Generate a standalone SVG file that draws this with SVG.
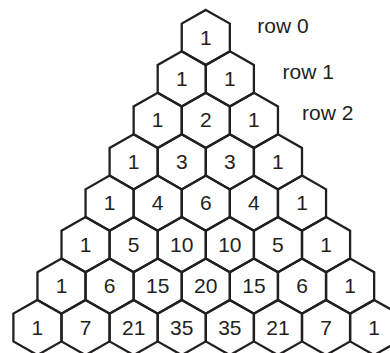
<svg xmlns="http://www.w3.org/2000/svg" width="390" height="353" viewBox="0 0 390 353">
<style>
.hex{fill:none;stroke:#231f20;stroke-width:2.3;stroke-linejoin:miter}
.num{font-family:"Liberation Sans",Arial,sans-serif;font-size:21px;fill:#231f20;text-anchor:middle}
.lbl{font-family:"Liberation Sans",Arial,sans-serif;font-size:21px;fill:#231f20}
</style>
<defs>
<polygon id="hex" class="hex" points="0,-27.6 24.05,-13.9 24.05,13.9 0,27.6 -24.05,13.9 -24.05,-13.9"/>
</defs>
<rect x="0" y="0" width="390" height="353" fill="#ffffff"/>
<g id="connectors"></g>
<g id="n0_0"><use href="#hex" x="205.8" y="37.5"/><text class="num" x="205.8" y="44.5">1</text></g>
<g id="n1_0"><use href="#hex" x="181.75" y="78.9"/><text class="num" x="181.75" y="85.9">1</text></g>
<g id="n1_1"><use href="#hex" x="229.85" y="78.9"/><text class="num" x="229.85" y="85.9">1</text></g>
<g id="n2_0"><use href="#hex" x="157.7" y="120.4"/><text class="num" x="157.7" y="127.4">1</text></g>
<g id="n2_1"><use href="#hex" x="205.8" y="120.4"/><text class="num" x="205.8" y="127.4">2</text></g>
<g id="n2_2"><use href="#hex" x="253.9" y="120.4"/><text class="num" x="253.9" y="127.4">1</text></g>
<g id="n3_0"><use href="#hex" x="133.65" y="161.8"/><text class="num" x="133.65" y="168.8">1</text></g>
<g id="n3_1"><use href="#hex" x="181.75" y="161.8"/><text class="num" x="181.75" y="168.8">3</text></g>
<g id="n3_2"><use href="#hex" x="229.85" y="161.8"/><text class="num" x="229.85" y="168.8">3</text></g>
<g id="n3_3"><use href="#hex" x="277.95" y="161.8"/><text class="num" x="277.95" y="168.8">1</text></g>
<g id="n4_0"><use href="#hex" x="109.6" y="203.2"/><text class="num" x="109.6" y="210.2">1</text></g>
<g id="n4_1"><use href="#hex" x="157.7" y="203.2"/><text class="num" x="157.7" y="210.2">4</text></g>
<g id="n4_2"><use href="#hex" x="205.8" y="203.2"/><text class="num" x="205.8" y="210.2">6</text></g>
<g id="n4_3"><use href="#hex" x="253.9" y="203.2"/><text class="num" x="253.9" y="210.2">4</text></g>
<g id="n4_4"><use href="#hex" x="302.0" y="203.2"/><text class="num" x="302.0" y="210.2">1</text></g>
<g id="n5_0"><use href="#hex" x="85.55" y="244.65"/><text class="num" x="85.55" y="251.65">1</text></g>
<g id="n5_1"><use href="#hex" x="133.65" y="244.65"/><text class="num" x="133.65" y="251.65">5</text></g>
<g id="n5_2"><use href="#hex" x="181.75" y="244.65"/><text class="num" x="181.75" y="251.65">10</text></g>
<g id="n5_3"><use href="#hex" x="229.85" y="244.65"/><text class="num" x="229.85" y="251.65">10</text></g>
<g id="n5_4"><use href="#hex" x="277.95" y="244.65"/><text class="num" x="277.95" y="251.65">5</text></g>
<g id="n5_5"><use href="#hex" x="326.05" y="244.65"/><text class="num" x="326.05" y="251.65">1</text></g>
<g id="n6_0"><use href="#hex" x="61.5" y="286.1"/><text class="num" x="61.5" y="293.1">1</text></g>
<g id="n6_1"><use href="#hex" x="109.6" y="286.1"/><text class="num" x="109.6" y="293.1">6</text></g>
<g id="n6_2"><use href="#hex" x="157.7" y="286.1"/><text class="num" x="157.7" y="293.1">15</text></g>
<g id="n6_3"><use href="#hex" x="205.8" y="286.1"/><text class="num" x="205.8" y="293.1">20</text></g>
<g id="n6_4"><use href="#hex" x="253.9" y="286.1"/><text class="num" x="253.9" y="293.1">15</text></g>
<g id="n6_5"><use href="#hex" x="302.0" y="286.1"/><text class="num" x="302.0" y="293.1">6</text></g>
<g id="n6_6"><use href="#hex" x="350.1" y="286.1"/><text class="num" x="350.1" y="293.1">1</text></g>
<g id="n7_0"><use href="#hex" x="37.45" y="327.5"/><text class="num" x="37.45" y="334.5">1</text></g>
<g id="n7_1"><use href="#hex" x="85.55" y="327.5"/><text class="num" x="85.55" y="334.5">7</text></g>
<g id="n7_2"><use href="#hex" x="133.65" y="327.5"/><text class="num" x="133.65" y="334.5">21</text></g>
<g id="n7_3"><use href="#hex" x="181.75" y="327.5"/><text class="num" x="181.75" y="334.5">35</text></g>
<g id="n7_4"><use href="#hex" x="229.85" y="327.5"/><text class="num" x="229.85" y="334.5">35</text></g>
<g id="n7_5"><use href="#hex" x="277.95" y="327.5"/><text class="num" x="277.95" y="334.5">21</text></g>
<g id="n7_6"><use href="#hex" x="326.05" y="327.5"/><text class="num" x="326.05" y="334.5">7</text></g>
<g id="n7_7"><use href="#hex" x="374.15" y="327.5"/><text class="num" x="374.15" y="334.5">1</text></g>
<g id="labels">
<text class="lbl" x="257.3" y="33.3">row 0</text>
<text class="lbl" x="282.5" y="79">row 1</text>
<text class="lbl" x="302" y="120">row 2</text>
</g>
</svg>
